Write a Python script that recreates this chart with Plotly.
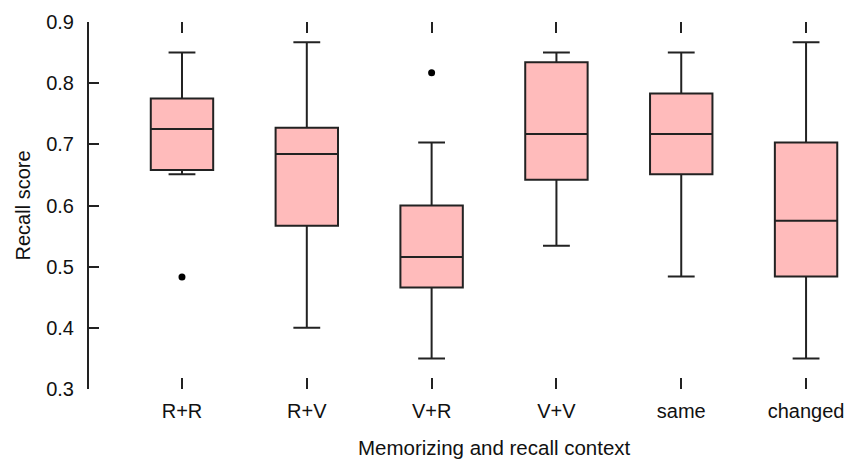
import plotly.graph_objects as go

categories = ["R+R", "R+V", "V+R", "V+V", "same", "changed"]
q1 = [0.658, 0.567, 0.466, 0.642, 0.651, 0.484]
median = [0.725, 0.684, 0.516, 0.717, 0.717, 0.575]
q3 = [0.775, 0.727, 0.600, 0.834, 0.783, 0.703]
lower_whisker = [0.651, 0.400, 0.350, 0.534, 0.484, 0.350]
upper_whisker = [0.850, 0.867, 0.703, 0.850, 0.850, 0.867]
outlier_x = ["R+R", "V+R"]
outlier_y = [0.483, 0.817]

y_ticks = [0.3, 0.4, 0.5, 0.6, 0.7, 0.8, 0.9]

FONT = "Liberation Sans, Arial, sans-serif"
DARK = "#222222"

fig = go.Figure()
fig.add_trace(go.Box(
    x=categories, q1=q1, median=median, q3=q3,
    lowerfence=lower_whisker, upperfence=upper_whisker,
    fillcolor="#FFBBBB", line=dict(color=DARK, width=2),
    width=0.5, whiskerwidth=0.43, boxpoints=False, showlegend=False,
))
fig.add_trace(go.Scatter(
    x=outlier_x, y=outlier_y, mode="markers",
    marker=dict(color="black", size=7), showlegend=False,
))

fig.update_layout(
    width=846, height=459,
    margin=dict(l=89, r=0, t=22, b=70),
    plot_bgcolor="white", paper_bgcolor="white",
    font=dict(family=FONT, size=20, color="#111111"),
    xaxis=dict(
        type="category", categoryorder="array", categoryarray=categories,
        range=[-0.745, 5.32], showgrid=False, zeroline=False, showline=False,
        ticks="inside", ticklen=11, tickwidth=2, tickcolor=DARK,
        mirror="ticks", ticklabelstandoff=8,
    ),
    yaxis=dict(
        range=[0.3, 0.9], tickvals=y_ticks, tickformat=".1f",
        showgrid=False, zeroline=False, showline=True, linewidth=2, linecolor=DARK,
        ticks="inside", ticklen=10, tickwidth=2, tickcolor=DARK,
        ticklabelstandoff=9,
    ),
    annotations=[
        dict(text="Memorizing and recall context", xref="x", x=2.5, yref="paper", y=0,
             yanchor="top", yshift=-45, showarrow=False, font=dict(size=20.5)),
        dict(text="Recall score", xref="paper", x=0, xshift=-67, xanchor="center",
             yref="paper", y=0.5, textangle=-90, showarrow=False, font=dict(size=20)),
    ],
)

fig.write_html("out.html", config={"displayModeBar": False},
               post_script="document.body.style.margin='0';")
